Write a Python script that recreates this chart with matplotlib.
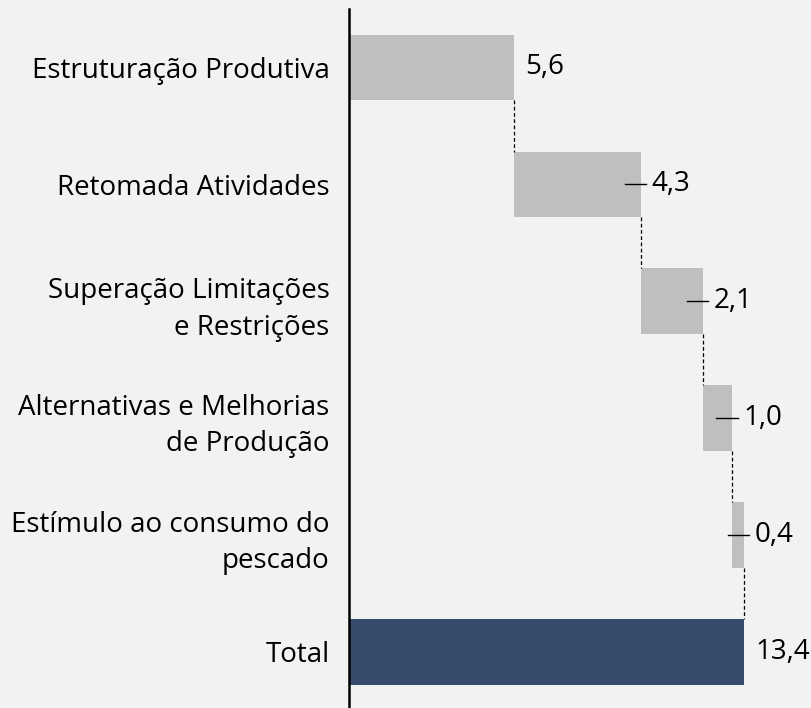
import matplotlib.pyplot as plt

plt.rcParams['font.family'] = ['Open Sans', 'DejaVu Sans']

categories = [
    "Estruturação Produtiva",
    "Retomada Atividades",
    "Superação Limitações\ne Restrições",
    "Alternativas e Melhorias\nde Produção",
    "Estímulo ao consumo do\npescado",
    "Total",
]
values = [5.6, 4.3, 2.1, 1.0, 0.4, 13.4]
labels = ["5,6", "4,3", "2,1", "1,0", "0,4", "13,4"]
leader = [False, True, True, True, True, False]

bg = "#F2F2F2"
grey = "#BFBFBF"
navy = "#374C6C"

fig = plt.figure(figsize=(8.12, 7.08), dpi=100, facecolor=bg)
ax = fig.add_axes([349 / 812, 0, 463 / 812, 1])
ax.set_facecolor(bg)

# waterfall starts
starts = []
acc = 0
for v in values[:-1]:
    starts.append(acc)
    acc += v
starts.append(0)

ypos = list(range(len(categories)))
colors = [grey] * (len(values) - 1) + [navy]
bar_h = 0.56

ax.barh(ypos, values, left=starts, height=bar_h, color=colors)

# dashed connectors
for i in range(len(values) - 1):
    x = starts[i] + values[i]
    ax.plot([x, x], [i + bar_h / 2, i + 1 - bar_h / 2],
            color="black", lw=0.9, ls=(0, (3, 2)))

# value labels
for i, v in enumerate(values):
    end = starts[i] + v
    ax.text(end + 0.37, i, labels[i], va="center", ha="left", fontsize=20)
    if leader[i]:
        ax.plot([end - 0.55, end + 0.18], [i, i], color="black", lw=1)

ax.set_xlim(0, 15.7)
ax.set_ylim(5.48, -0.577)
ax.set_yticks(ypos)
ax.set_yticklabels(categories, fontsize=20, linespacing=1.42)
ax.tick_params(axis="y", length=0, pad=14)
ax.set_xticks([])
for s in ["top", "right", "bottom"]:
    ax.spines[s].set_visible(False)
ax.spines["left"].set_linewidth(1.8)
ax.spines["left"].set_bounds(-0.5, 5.48)

plt.savefig("out.png", facecolor=bg)
